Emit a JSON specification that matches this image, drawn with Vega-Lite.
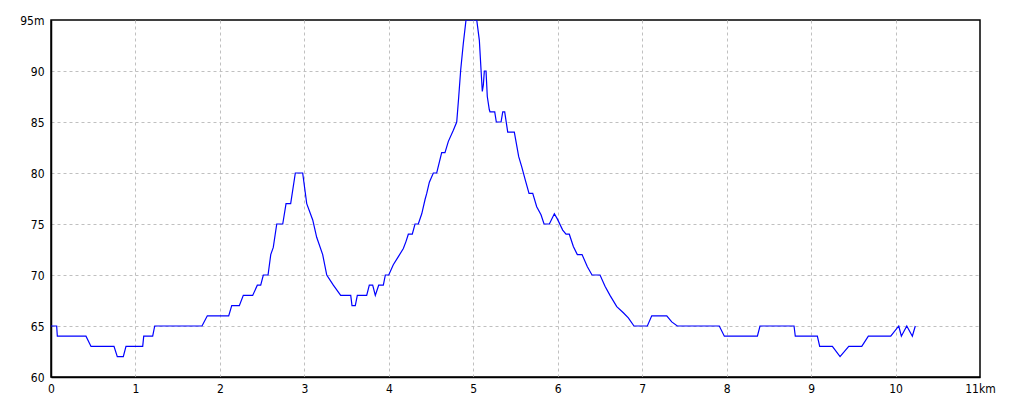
{
  "$schema": "https://vega.github.io/schema/vega-lite/v6.json",
  "autosize": {"type": "none"},
  "width": 929,
  "height": 357,
  "padding": {"left": 51, "top": 20, "right": 40, "bottom": 31},
  "background": "white",
  "config": {
    "view": {"stroke": "black", "strokeWidth": 1.5},
    "axis": {
      "labelFont": "DejaVu Sans Condensed, Liberation Sans, sans-serif",
      "labelFontSize": 12,
      "labelColor": "black",
      "domainColor": "black",
      "domainWidth": 1.5,
      "ticks": false,
      "gridColor": "#c0c0c0",
      "gridDash": [3, 3],
      "gridWidth": 1,
      "title": null
    }
  },
  "data": {
    "values": [
      {"km": 0, "m": 65}, {"km": 0.067, "m": 65}, {"km": 0.075, "m": 64},
      {"km": 0.414, "m": 64}, {"km": 0.474, "m": 63}, {"km": 0.746, "m": 63},
      {"km": 0.785, "m": 62}, {"km": 0.856, "m": 62}, {"km": 0.888, "m": 63},
      {"km": 1.086, "m": 63}, {"km": 1.098, "m": 64}, {"km": 1.204, "m": 64},
      {"km": 1.228, "m": 65}, {"km": 1.788, "m": 65}, {"km": 1.851, "m": 66},
      {"km": 2.104, "m": 66}, {"km": 2.14, "m": 67}, {"km": 2.23, "m": 67},
      {"km": 2.277, "m": 68}, {"km": 2.388, "m": 68}, {"km": 2.443, "m": 69},
      {"km": 2.483, "m": 69}, {"km": 2.514, "m": 70}, {"km": 2.57, "m": 70},
      {"km": 2.602, "m": 72}, {"km": 2.632, "m": 72.7}, {"km": 2.673, "m": 75},
      {"km": 2.744, "m": 75}, {"km": 2.783, "m": 77}, {"km": 2.838, "m": 77},
      {"km": 2.893, "m": 80}, {"km": 2.98, "m": 80}, {"km": 3.028, "m": 77},
      {"km": 3.099, "m": 75.4}, {"km": 3.146, "m": 73.7}, {"km": 3.217, "m": 72},
      {"km": 3.265, "m": 70}, {"km": 3.343, "m": 69}, {"km": 3.43, "m": 68},
      {"km": 3.549, "m": 68}, {"km": 3.564, "m": 67}, {"km": 3.603, "m": 67},
      {"km": 3.627, "m": 68}, {"km": 3.738, "m": 68}, {"km": 3.769, "m": 69},
      {"km": 3.809, "m": 69}, {"km": 3.84, "m": 68}, {"km": 3.88, "m": 69},
      {"km": 3.935, "m": 69}, {"km": 3.959, "m": 70}, {"km": 3.999, "m": 70},
      {"km": 4.053, "m": 71}, {"km": 4.113, "m": 71.8}, {"km": 4.172, "m": 72.6},
      {"km": 4.204, "m": 73.3}, {"km": 4.231, "m": 74}, {"km": 4.278, "m": 74},
      {"km": 4.31, "m": 75}, {"km": 4.349, "m": 75}, {"km": 4.39, "m": 76},
      {"km": 4.429, "m": 77.4}, {"km": 4.449, "m": 78}, {"km": 4.48, "m": 79.1},
      {"km": 4.527, "m": 80}, {"km": 4.567, "m": 80}, {"km": 4.626, "m": 82},
      {"km": 4.665, "m": 82}, {"km": 4.705, "m": 83.1}, {"km": 4.764, "m": 84.2},
      {"km": 4.804, "m": 85}, {"km": 4.828, "m": 87.5}, {"km": 4.851, "m": 90.1},
      {"km": 4.882, "m": 92.7}, {"km": 4.914, "m": 95}, {"km": 5.041, "m": 95},
      {"km": 5.072, "m": 93}, {"km": 5.092, "m": 90.1}, {"km": 5.107, "m": 88},
      {"km": 5.119, "m": 88.6}, {"km": 5.131, "m": 90}, {"km": 5.151, "m": 90},
      {"km": 5.166, "m": 87.5}, {"km": 5.19, "m": 86.2}, {"km": 5.198, "m": 86},
      {"km": 5.254, "m": 86}, {"km": 5.273, "m": 85}, {"km": 5.329, "m": 85},
      {"km": 5.349, "m": 86}, {"km": 5.372, "m": 86}, {"km": 5.408, "m": 84},
      {"km": 5.486, "m": 84}, {"km": 5.538, "m": 81.6}, {"km": 5.574, "m": 80.6},
      {"km": 5.613, "m": 79.4}, {"km": 5.66, "m": 78}, {"km": 5.704, "m": 78},
      {"km": 5.751, "m": 76.7}, {"km": 5.802, "m": 75.9}, {"km": 5.838, "m": 75},
      {"km": 5.901, "m": 75}, {"km": 5.96, "m": 76}, {"km": 5.995, "m": 75.5},
      {"km": 6.059, "m": 74.4}, {"km": 6.098, "m": 74}, {"km": 6.137, "m": 74},
      {"km": 6.185, "m": 72.8}, {"km": 6.232, "m": 72}, {"km": 6.288, "m": 72},
      {"km": 6.351, "m": 70.8}, {"km": 6.406, "m": 70}, {"km": 6.501, "m": 70},
      {"km": 6.56, "m": 68.9}, {"km": 6.619, "m": 68}, {"km": 6.699, "m": 66.9},
      {"km": 6.777, "m": 66.3}, {"km": 6.836, "m": 65.8}, {"km": 6.903, "m": 65},
      {"km": 7.061, "m": 65}, {"km": 7.113, "m": 66}, {"km": 7.291, "m": 66},
      {"km": 7.35, "m": 65.4}, {"km": 7.416, "m": 65}, {"km": 7.913, "m": 65},
      {"km": 7.973, "m": 64}, {"km": 8.364, "m": 64}, {"km": 8.395, "m": 65},
      {"km": 8.798, "m": 65}, {"km": 8.813, "m": 64}, {"km": 9.074, "m": 64},
      {"km": 9.102, "m": 63}, {"km": 9.252, "m": 63}, {"km": 9.343, "m": 62},
      {"km": 9.446, "m": 63}, {"km": 9.6, "m": 63}, {"km": 9.678, "m": 64},
      {"km": 9.943, "m": 64}, {"km": 10.038, "m": 65}, {"km": 10.069, "m": 64},
      {"km": 10.133, "m": 65}, {"km": 10.199, "m": 64}, {"km": 10.234, "m": 65}
    ]
  },
  "mark": {"type": "line", "color": "#0000ff", "strokeWidth": 1.2, "clip": true},
  "encoding": {
    "x": {
      "field": "km",
      "type": "quantitative",
      "scale": {"domain": [0, 11], "nice": false, "zero": false},
      "axis": {
        "values": [0, 1, 2, 3, 4, 5, 6, 7, 8, 9, 10, 11],
        "labelExpr": "datum.value == 11 ? '11km' : datum.label",
        "labelPadding": 6,
        "labelFlush": false,
        "labelOverlap": false,
        "gridOpacity": {"condition": {"test": "datum.value == 11 || datum.value == 0", "value": 0}, "value": 1}
      }
    },
    "y": {
      "field": "m",
      "type": "quantitative",
      "scale": {"domain": [60, 95], "nice": false, "zero": false},
      "axis": {
        "values": [60, 65, 70, 75, 80, 85, 90, 95],
        "labelExpr": "datum.value == 95 ? '95m' : datum.label",
        "labelPadding": 7,
        "labelFlush": false,
        "labelOverlap": false,
        "gridOpacity": {"condition": {"test": "datum.value == 95 || datum.value == 60", "value": 0}, "value": 1}
      }
    }
  }
}
